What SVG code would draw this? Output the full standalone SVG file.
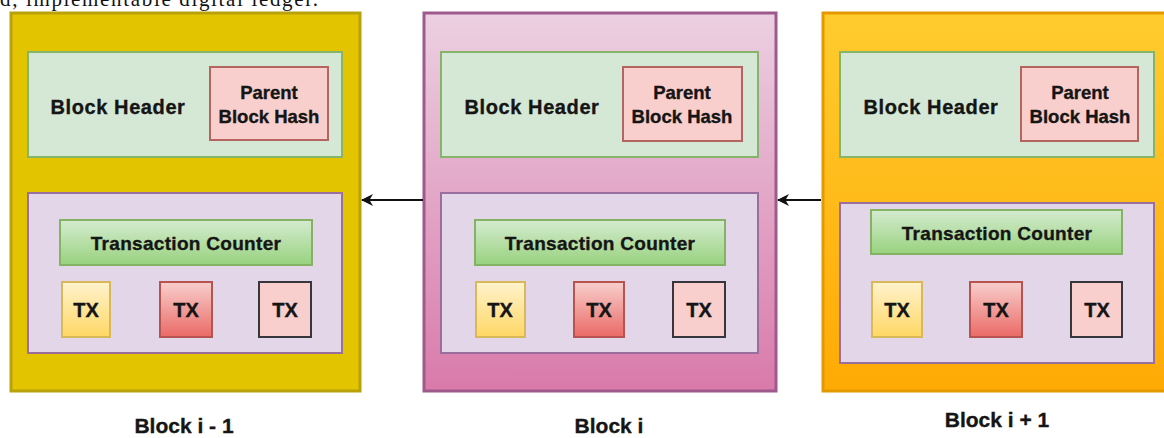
<svg xmlns="http://www.w3.org/2000/svg" width="1164" height="438" viewBox="0 0 1164 438">
<defs>
<linearGradient id="gPink" x1="0" y1="0" x2="0" y2="1"><stop offset="0" stop-color="#ecd0e2"/><stop offset="1" stop-color="#d97aaa"/></linearGradient>
<linearGradient id="gOrange" x1="0" y1="0" x2="0" y2="1"><stop offset="0" stop-color="#ffcc2e"/><stop offset="1" stop-color="#ffaa05"/></linearGradient>
<linearGradient id="gGreen" x1="0" y1="0" x2="0" y2="1"><stop offset="0" stop-color="#d5ebd0"/><stop offset="1" stop-color="#98d27e"/></linearGradient>
<linearGradient id="gYellow" x1="0" y1="0" x2="0" y2="1"><stop offset="0" stop-color="#fff3cd"/><stop offset="1" stop-color="#ffd765"/></linearGradient>
<linearGradient id="gRed" x1="0" y1="0" x2="0" y2="1"><stop offset="0" stop-color="#f8cfcd"/><stop offset="1" stop-color="#ea6a66"/></linearGradient>
<marker id="arr" viewBox="0 0 12 12" refX="11" refY="6" markerWidth="12" markerHeight="12" markerUnits="userSpaceOnUse" orient="auto">
<path d="M0,0 L12,6 L0,12 L3.5,6 Z" fill="#111"/>
</marker>
</defs>
<style>
text{font-family:"Liberation Sans",Arial,sans-serif;font-weight:bold;fill:#151515;stroke:#151515;stroke-width:0.35px;text-anchor:middle}
.hdr{fill:#d5e8d6;stroke:#86b46a;stroke-width:2}
.ph{fill:#f8cfcc;stroke:#b5655f;stroke-width:2}
.body{fill:#e2d6e8;stroke:#9a6f9e;stroke-width:2}
.tc{fill:url(#gGreen);stroke:#84b366;stroke-width:2}
.tx1{fill:url(#gYellow);stroke:#d8b859;stroke-width:2}
.tx2{fill:url(#gRed);stroke:#b85450;stroke-width:2}
.tx3{fill:#f8cfcc;stroke:#38363d;stroke-width:2}
.bh{font-size:20px;letter-spacing:0.6px}
.pbh{font-size:18.5px}
.tct{font-size:19px;letter-spacing:0.3px}
.txt{font-size:20px}
.lbl{font-size:21px}
.conn{stroke:#111;stroke-width:2;fill:none}
</style>
<rect width="1164" height="438" fill="#ffffff"/>
<text x="0" y="6" textLength="318" style="font-family:'Liberation Serif','Times New Roman',serif;font-weight:normal;font-size:21px;text-anchor:start;fill:#111;stroke:none">d, implementable digital ledger.</text>

<g id="block-i-minus-1">
<rect x="11" y="13" width="349" height="378" fill="#e2c400" stroke="#b9a10a" stroke-width="3"/>
<rect class="hdr" x="28" y="52" width="314" height="105"/>
<text class="bh" x="118" y="114">Block Header</text>
<rect class="ph" x="210" y="67" width="118" height="73"/>
<text class="pbh" x="269" y="99">Parent</text>
<text class="pbh" x="269" y="123">Block Hash</text>
<rect class="body" x="28" y="193" width="314" height="160"/>
<rect class="tc" x="60" y="220" width="252" height="45"/>
<text class="tct" x="186" y="250">Transaction Counter</text>
<rect class="tx1" x="62" y="282" width="48" height="55"/>
<text class="txt" x="86" y="317">TX</text>
<rect class="tx2" x="160" y="282" width="52" height="55"/>
<text class="txt" x="186" y="317">TX</text>
<rect class="tx3" x="259" y="282" width="52" height="55"/>
<text class="txt" x="285" y="317">TX</text>
<text class="lbl" x="184" y="433">Block i - 1</text>
</g>

<g id="block-i">
<rect x="424" y="13" width="352" height="378" fill="url(#gPink)" stroke="#9e5a8c" stroke-width="3"/>
<rect class="hdr" x="441" y="52" width="317" height="105"/>
<text class="bh" x="532" y="114">Block Header</text>
<rect class="ph" x="623" y="67" width="119" height="74"/>
<text class="pbh" x="682" y="99">Parent</text>
<text class="pbh" x="682" y="123">Block Hash</text>
<rect class="body" x="441" y="193" width="317" height="160"/>
<rect class="tc" x="475" y="220" width="250" height="45"/>
<text class="tct" x="600" y="250">Transaction Counter</text>
<rect class="tx1" x="476" y="282" width="49" height="55"/>
<text class="txt" x="500" y="317">TX</text>
<rect class="tx2" x="574" y="282" width="50" height="55"/>
<text class="txt" x="599" y="317">TX</text>
<rect class="tx3" x="673" y="282" width="52" height="55"/>
<text class="txt" x="699" y="317">TX</text>
<text class="lbl" x="609" y="433">Block i</text>
</g>

<g id="block-i-plus-1">
<rect x="823" y="13" width="345" height="378" fill="url(#gOrange)" stroke="#e39a00" stroke-width="3"/>
<rect class="hdr" x="840" y="52" width="314" height="105"/>
<text class="bh" x="931" y="114">Block Header</text>
<rect class="ph" x="1021" y="67" width="117" height="74"/>
<text class="pbh" x="1080" y="99">Parent</text>
<text class="pbh" x="1080" y="123">Block Hash</text>
<rect class="body" x="840" y="203" width="314" height="160"/>
<rect class="tc" x="871" y="210" width="251" height="44"/>
<text class="tct" x="997" y="240">Transaction Counter</text>
<rect class="tx1" x="872" y="282" width="50" height="55"/>
<text class="txt" x="897" y="317">TX</text>
<rect class="tx2" x="970" y="282" width="52" height="55"/>
<text class="txt" x="996" y="317">TX</text>
<rect class="tx3" x="1071" y="282" width="51" height="55"/>
<text class="txt" x="1097" y="317">TX</text>
<text class="lbl" x="997" y="427">Block i + 1</text>
</g>

<g id="connectors">
<line class="conn" x1="423" y1="200" x2="362" y2="200" marker-end="url(#arr)"/>
<line class="conn" x1="821" y1="200" x2="778" y2="200" marker-end="url(#arr)"/>
</g>
</svg>
